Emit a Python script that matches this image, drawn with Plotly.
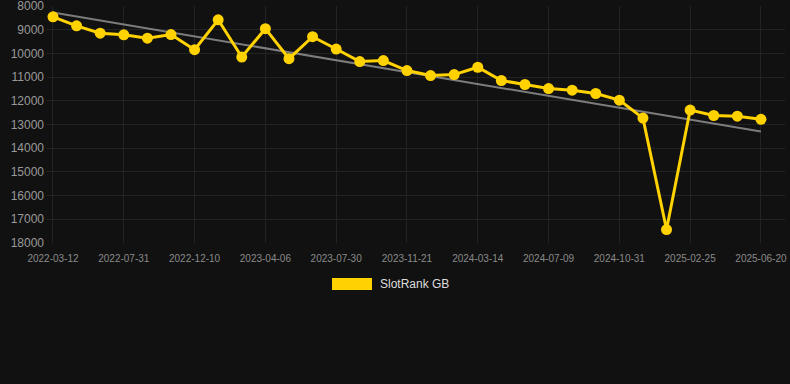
import plotly.graph_objects as go

dates = ["2022-03-12", "2022-04-28", "2022-06-14", "2022-07-31", "2022-08-14", "2022-09-28",
         "2022-12-10", "2023-01-08", "2023-02-26", "2023-04-06", "2023-05-04", "2023-06-28",
         "2023-07-30", "2023-08-24", "2023-10-09", "2023-11-21", "2023-12-31", "2024-02-05",
         "2024-03-14", "2024-04-20", "2024-05-31", "2024-07-09", "2024-08-15", "2024-09-22",
         "2024-10-31", "2024-12-08", "2025-01-18", "2025-02-25", "2025-04-05", "2025-05-12",
         "2025-06-20"]
tick_labels = ["2022-03-12", "2022-07-31", "2022-12-10", "2023-04-06", "2023-07-30",
               "2023-11-21", "2024-03-14", "2024-07-09", "2024-10-31", "2025-02-25",
               "2025-06-20"]
y_ticks = [8000, 9000, 10000, 11000, 12000, 13000, 14000, 15000, 16000, 17000, 18000]
rank = [8450, 8830, 9140, 9210, 9350, 9200, 9840, 8575, 10150, 8950, 10220, 9290,
        9810, 10340, 10300, 10720, 10930, 10890, 10580, 11140, 11310, 11480, 11550,
        11690, 11970, 12730, 17440, 12390, 12620, 12650, 12780]
trend_ends = [8270, 13300]
series_name = "SlotRank GB"

GOLD = "#FFD200"

fig = go.Figure()
fig.add_trace(go.Scatter(
    x=[dates[0], dates[-1]], y=trend_ends, mode="lines",
    line=dict(color="rgba(160,160,160,0.75)", width=2),
    showlegend=False, hoverinfo="skip"))
fig.add_trace(go.Scatter(
    x=dates, y=rank, mode="lines+markers", name=series_name,
    line=dict(color=GOLD, width=3),
    marker=dict(color=GOLD, size=11),
    showlegend=False))

n = len(dates)
fig.update_layout(
    width=790, height=384,
    paper_bgcolor="#111111", plot_bgcolor="#111111",
    margin=dict(l=47, r=5, t=6, b=141, autoexpand=False),
    font=dict(family="Arial, Liberation Sans, sans-serif", color="#8a8a8a"),
    xaxis=dict(type="category", categoryorder="array", categoryarray=dates,
               range=[-0.254, n - 1 + 1.02], automargin=False,
               tickmode="array", tickvals=tick_labels, ticktext=tick_labels,
               showgrid=True, gridcolor="#232323", gridwidth=1,
               zeroline=False, showline=False, ticks="",
               ticklabelstandoff=8, ticklabeloverflow="allow",
               tickfont=dict(size=10, color="#8a8a8a")),
    yaxis=dict(range=[18008, 7992], tickmode="array", automargin=False,
               tickvals=y_ticks, ticktext=[str(v) for v in y_ticks],
               showgrid=True, gridcolor="#232323", gridwidth=1,
               zeroline=False, showline=False, ticks="",
               ticklabelstandoff=2, ticklabeloverflow="allow",
               tickfont=dict(size=12, color="#9a9a9a")),
    showlegend=False,
    shapes=[dict(type="rect", xref="paper", yref="paper",
                 x0=(332 - 47) / 738, x1=(372 - 47) / 738,
                 y0=(384 - 141 - 290) / 237, y1=(384 - 141 - 278) / 237,
                 fillcolor=GOLD, line=dict(width=0))],
    annotations=[dict(text=series_name, xref="paper", yref="paper",
                      x=(378 - 47) / 738, y=(384 - 141 - 284) / 237,
                      xanchor="left", yanchor="middle", showarrow=False,
                      font=dict(size=12, color="#dddddd"))],
)

fig.write_html("out.html", config={"displayModeBar": False},
               post_script="document.body.style.margin='0';document.body.style.background='#111111';")
